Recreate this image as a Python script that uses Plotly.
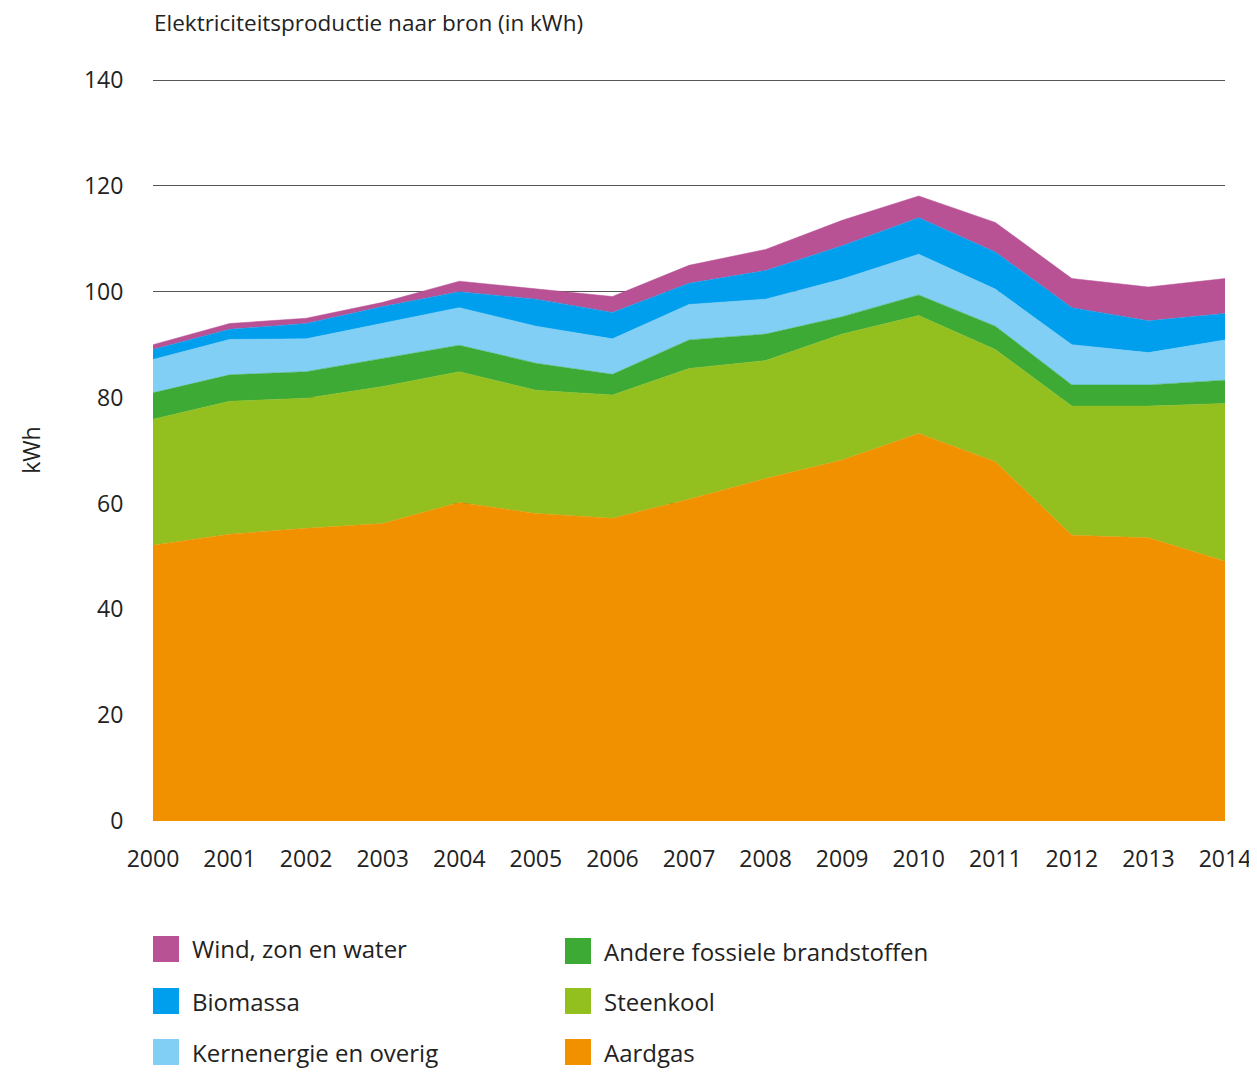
import plotly.graph_objects as go

years = list(range(2000, 2015))
aardgas = [52.1, 54.2, 55.3, 56.2, 60.2, 58.1, 57.2, 60.8, 64.7, 68.2, 73.2, 67.9, 54.0, 53.5, 49.1]
steenkool = [23.8, 25.1, 24.6, 25.9, 24.7, 23.3, 23.3, 24.7, 22.3, 23.8, 22.3, 21.2, 24.4, 24.9, 29.8]
andere_fossiel = [5.0, 5.0, 5.0, 5.3, 5.0, 5.1, 3.9, 5.4, 5.0, 3.3, 3.9, 4.4, 4.0, 4.0, 4.4]
kernenergie = [6.3, 6.7, 6.2, 6.7, 7.1, 7.0, 6.7, 6.7, 6.6, 7.1, 7.7, 7.0, 7.6, 6.1, 7.6]
biomassa = [1.9, 1.9, 2.9, 3.1, 3.0, 5.1, 5.0, 4.0, 5.4, 6.3, 6.9, 7.0, 7.0, 6.0, 5.0]
wind_zon_water = [0.9, 1.1, 1.0, 0.8, 2.0, 1.9, 3.0, 3.4, 4.0, 4.8, 4.1, 5.6, 5.5, 6.4, 6.6]
y_ticks = [0, 20, 40, 60, 80, 100, 120, 140]

series = [
    ("Aardgas", aardgas, "#F29100"),
    ("Steenkool", steenkool, "#93C01F"),
    ("Andere fossiele brandstoffen", andere_fossiel, "#3DAA35"),
    ("Kernenergie en overig", kernenergie, "#82CFF5"),
    ("Biomassa", biomassa, "#009FEE"),
    ("Wind, zon en water", wind_zon_water, "#B85295"),
]

FONT = "Open Sans, Liberation Sans, Arial, sans-serif"
TXT = "#222222"

# page body has an 8px margin, so the figure is placed at (8, 8)
W, H = 1249, 1064
PL, PR, PT, PB = 153, 1225, 79, 821  # plot area in page pixels
L, R, T, B = PL - 8, 8 + W - PR, PT - 8, 8 + H - PB


def px(x):
    return (x - PL) / (PR - PL)


def py(y):
    return (PB - y) / (PB - PT)


fig = go.Figure()
for name, vals, col in series:
    fig.add_trace(go.Scatter(
        x=years, y=vals, name=name, mode="lines", stackgroup="one",
        line=dict(width=0.5, color=col), fillcolor=col, showlegend=False,
    ))

legend_cols = [
    [("Wind, zon en water", "#B85295"), ("Biomassa", "#009FEE"), ("Kernenergie en overig", "#82CFF5")],
    [("Andere fossiele brandstoffen", "#3DAA35"), ("Steenkool", "#93C01F"), ("Aardgas", "#F29100")],
]
col_x = [153, 565]
row_y = [949, 1001, 1052]
for ci, col in enumerate(legend_cols):
    for ri, (label, color) in enumerate(col):
        x0 = col_x[ci]
        yc = row_y[ri] + (2 if ci == 1 and ri == 0 else 0)
        fig.add_shape(type="rect", xref="paper", yref="paper",
                      x0=px(x0), x1=px(x0 + 26),
                      y0=py(yc + 13), y1=py(yc - 13),
                      fillcolor=color, line=dict(width=0))
        fig.add_annotation(xref="paper", yref="paper",
                           x=px(x0 + 37), y=py(yc),
                           text=label, showarrow=False, xanchor="left", yanchor="middle",
                           font=dict(family=FONT, size=24, color=TXT))

fig.update_layout(
    width=W, height=H,
    margin=dict(l=L, r=R, t=T, b=B, autoexpand=False),
    paper_bgcolor="white", plot_bgcolor="white",
    font=dict(family=FONT, size=24, color=TXT),
    title=dict(text="Elektriciteitsproductie naar bron (in kWh)", x=(154 - 8) / W, xanchor="left",
               y=1 - (23 - 8) / H, yanchor="middle", font=dict(family=FONT, size=22.5, color=TXT)),
    showlegend=False,
)
fig.update_xaxes(
    range=[2000, 2014], tickvals=years, ticktext=[str(y) for y in years],
    showgrid=False, zeroline=False, showline=False, automargin=False,
    ticks="outside", ticklen=17, tickcolor="rgba(0,0,0,0)",
    tickfont=dict(family=FONT, size=23, color=TXT),
)
fig.update_yaxes(
    range=[0, 140.2], tickvals=y_ticks, automargin=False,
    showgrid=True, gridcolor="#555555", gridwidth=1.4, zeroline=False, showline=False,
    ticks="outside", ticklen=24, tickcolor="rgba(0,0,0,0)",
    tickfont=dict(family=FONT, size=23, color=TXT),
    title=dict(text="kWh", standoff=36, font=dict(family=FONT, size=23, color=TXT)),
)

fig.write_html("out.html")
